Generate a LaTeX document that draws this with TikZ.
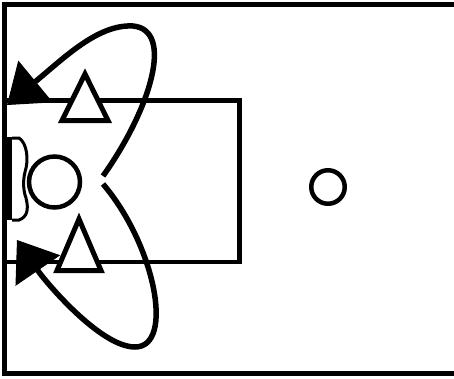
\documentclass[tikz,border=0pt]{standalone}
\usepackage{tikz}
\usetikzlibrary{arrows.meta}

\begin{document}
\begin{tikzpicture}[x=1pt, y=-1pt,
    ln/.style={line width=5pt},
    ring/.style={draw, circle, inner sep=0pt, line width=4.5pt},
    pl/.style={draw, fill=white, line width=5pt, line join=miter},
    arr/.style={line width=5.5pt, -{Triangle[length=37pt, width=54pt, line width=1pt]}}
  ]
  \useasboundingbox (0,0) rectangle (454,378);
  % court
  \draw[ln] (454,4.5) -- (4.5,4.5) -- (4.5,373.5) -- (454,373.5);
  \draw[line width=4.5pt] (5,100.5) -| (239.5,262) -- (5,262);
  % backboard and rim
  \fill (4,137) rectangle (12,220);
  \draw[line width=3pt] (12,138) -- (19,138) .. controls (27,143) and (29,160) .. (25,172)
    .. controls (23,180) and (23,190) .. (26,198) .. controls (29,210) and (27,217) .. (19,220) -- (12,220);
  \node[ring, minimum size=51pt] (hoop) at (54.5,182) {};
  \node[ring, minimum size=33.5pt] (ctr) at (328,187) {};
  % players
  \draw[pl] (85,74) -- (108,120.5) -- (62,120.5) -- cycle;
  \draw[pl] (79,219) -- (101,270.5) -- (57,270.5) -- cycle;
  % cuts
  \coordinate (s1) at (103,176);
  \coordinate (e1) at (7,105);
  \coordinate (s2) at (103,184);
  \coordinate (e2) at (17,240);
  \draw[arr] (s1) .. controls (150,110) and (175,30) .. (133,26)
    .. controls (98,24) and (64,58) .. (e1);
  \draw[arr] (s2) .. controls (155,245) and (175,347) .. (135,347)
    .. controls (100,347) and (45,281) .. (e2);
\end{tikzpicture}
\end{document}
